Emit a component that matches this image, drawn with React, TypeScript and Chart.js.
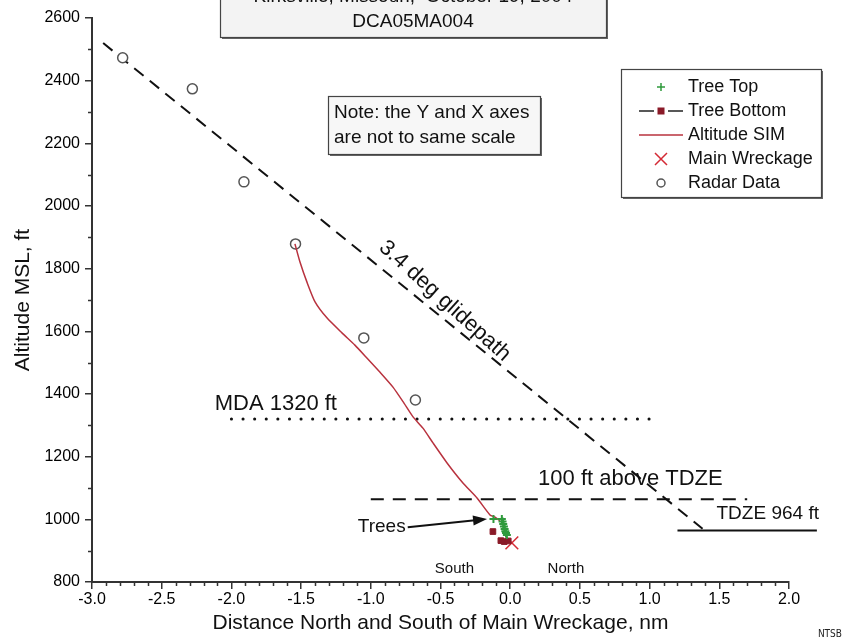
import React, { useEffect, useRef } from "react";
import { Chart, registerables } from "chart.js";
Chart.register(...registerables);

const FONT = '"Liberation Sans", Arial, sans-serif';

// Radar data (open circles)
const radarX = [-2.78, -2.28, -1.91, -1.54, -1.05, -0.68];
const radarY = [2473, 2374, 2077, 1879, 1579, 1381];

// Altitude SIM (red line)
const simX = [-1.544, -1.508, -1.458, -1.40, -1.315, -1.207, -1.114, -1.028, -0.935, -0.841, -0.762, -0.697, -0.626, -0.554, -0.453, -0.339, -0.238, -0.145, -0.109, -0.073];
const simY = [1879, 1821, 1757, 1694, 1643, 1595, 1556, 1515, 1470, 1422, 1371, 1327, 1291, 1244, 1180, 1116, 1068, 1014, 1007, 995];

// Tree Top (green crosses)
const treeTopX = [-0.12, -0.06, -0.055, -0.05, -0.045, -0.04, -0.035, -0.03, -0.024];
const treeTopY = [1001, 1001, 993, 985, 977, 969, 962, 956, 950];

// Tree Bottom (dark red squares)
const treeBottomX = [-0.124, -0.067, -0.043, -0.014];
const treeBottomY = [961, 932, 929, 931];

// Main wreckage
const wreckX = [0.012];
const wreckY = [925];

// Reference lines
const glideX = [-2.92, 1.38];
const glideY = [2520, 970];
const mdaX = [-2.0, 1.02];
const mdaY = [1320, 1320];
const tdze100X = [-1.0, 1.7];
const tdze100Y = [1064, 1064];
const tdzeX = [1.2, 2.2];
const tdzeY = [964, 964];

const xMin = -3.0, xMax = 2.0, xStep = 0.5;
const yMin = 800, yMax = 2600, yStep = 200;

const legendLabels = ["Tree Top", "Tree Bottom", "Altitude SIM", "Main Wreckage", "Radar Data"];

const pts = (xs: number[], ys: number[]) => xs.map((x, i) => ({ x, y: ys[i] }));

const annotPlugin = {
  id: "annot",
  afterDraw(chart: any) {
    const ctx: CanvasRenderingContext2D = chart.ctx;
    const xs = chart.scales.x;
    const ys = chart.scales.y;
    const px = (v: number) => xs.getPixelForValue(v);
    const py = (v: number) => ys.getPixelForValue(v);
    const ca = chart.chartArea;
    ctx.save();

    // minor ticks
    ctx.strokeStyle = "#333";
    ctx.lineWidth = 1.5;
    ctx.beginPath();
    for (let i = -30; i <= 20; i++) {
      if (i % 5 === 0) continue;
      const x = Math.round(px(i / 10)) + 0.5;
      ctx.moveTo(x, ca.bottom);
      ctx.lineTo(x, ca.bottom + 4);
    }
    for (let v = 900; v < 2600; v += 200) {
      const y = Math.round(py(v)) + 0.5;
      ctx.moveTo(ca.left, y);
      ctx.lineTo(ca.left - 4, y);
    }
    ctx.stroke();

    const box = (x1: number, y1: number, x2: number, y2: number, fill: string) => {
      ctx.fillStyle = "#666";
      ctx.fillRect(x1 + 2, y1 + 2, x2 - x1, y2 - y1);
      ctx.fillStyle = fill;
      ctx.fillRect(x1, y1, x2 - x1, y2 - y1);
      ctx.strokeStyle = "#444";
      ctx.lineWidth = 1.2;
      ctx.strokeRect(x1 + 0.5, y1 + 0.5, x2 - x1, y2 - y1);
    };

    ctx.fillStyle = "#111";
    ctx.textBaseline = "middle";

    // Title box (cut off at top)
    box(220, -6, 606, 37, "#f3f3f3");
    ctx.fillStyle = "#111";
    ctx.font = `19px ${FONT}`;
    ctx.textAlign = "center";
    ctx.fillText("Kirksville, Missouri,  October 19, 2004", 413, -3);
    ctx.fillText("DCA05MA004", 413, 22);

    // Note box
    box(328, 96, 540, 154, "#f7f7f7");
    ctx.fillStyle = "#111";
    ctx.textAlign = "left";
    ctx.font = `19px ${FONT}`;
    ctx.fillText("Note: the Y and X axes", 334, 113);
    ctx.fillText("are not to same scale", 334, 138);

    // Legend
    box(621, 69, 821, 197, "#ffffff");
    const ds = chart.data.datasets;
    const lx = 661;
    const rows = [87, 111, 135, 159, 183];
    ctx.font = `18px ${FONT}`;
    legendLabels.forEach((lab, i) => {
      const y = rows[i];
      if (i === 0) {
        ctx.strokeStyle = ds[0].borderColor;
        ctx.lineWidth = 1.5;
        ctx.beginPath();
        ctx.moveTo(lx - 4, y); ctx.lineTo(lx + 4, y);
        ctx.moveTo(lx, y - 4); ctx.lineTo(lx, y + 4);
        ctx.stroke();
      } else if (i === 1) {
        ctx.strokeStyle = "#222";
        ctx.lineWidth = 1.5;
        ctx.beginPath();
        ctx.moveTo(639, y); ctx.lineTo(654, y);
        ctx.moveTo(668, y); ctx.lineTo(683, y);
        ctx.stroke();
        ctx.fillStyle = ds[1].backgroundColor;
        ctx.fillRect(lx - 3.5, y - 3.5, 7, 7);
      } else if (i === 2) {
        ctx.strokeStyle = ds[2].borderColor;
        ctx.lineWidth = 1.5;
        ctx.beginPath();
        ctx.moveTo(639, y); ctx.lineTo(683, y);
        ctx.stroke();
      } else if (i === 3) {
        ctx.strokeStyle = ds[3].borderColor;
        ctx.lineWidth = 1.5;
        ctx.beginPath();
        ctx.moveTo(lx - 6, y - 6); ctx.lineTo(lx + 6, y + 6);
        ctx.moveTo(lx + 6, y - 6); ctx.lineTo(lx - 6, y + 6);
        ctx.stroke();
      } else {
        ctx.strokeStyle = ds[4].borderColor;
        ctx.lineWidth = 1.5;
        ctx.beginPath();
        ctx.arc(lx, y, 4, 0, Math.PI * 2);
        ctx.stroke();
      }
      ctx.fillStyle = "#111";
      ctx.textAlign = "left";
      ctx.fillText(lab, 688, y);
    });

    // Line annotations
    ctx.fillStyle = "#111";
    ctx.font = `22px ${FONT}`;
    ctx.textAlign = "left";
    ctx.fillText("MDA 1320 ft", px(-2.12), py(1368));
    ctx.fillText("100 ft above TDZE", px(0.2), py(1130));
    ctx.font = `19px ${FONT}`;
    ctx.fillText("TDZE 964 ft", px(1.48), py(1017));

    // glidepath label
    ctx.save();
    ctx.translate(px(-0.47), py(1697));
    ctx.rotate((42 * Math.PI) / 180);
    ctx.font = `22px ${FONT}`;
    ctx.textAlign = "center";
    ctx.fillText("3.4 deg glidepath", 0, 0);
    ctx.restore();

    // Trees label and arrow
    ctx.font = `19px ${FONT}`;
    ctx.textAlign = "right";
    ctx.fillText("Trees", px(-0.75), py(975));
    const ax1 = px(-0.735), ay1 = py(975);
    const ax2 = px(-0.166), ay2 = py(1001);
    const ang = Math.atan2(ay2 - ay1, ax2 - ax1);
    ctx.strokeStyle = "#111";
    ctx.lineWidth = 2;
    ctx.beginPath();
    ctx.moveTo(ax1, ay1);
    ctx.lineTo(ax2 - 12 * Math.cos(ang), ay2 - 12 * Math.sin(ang));
    ctx.stroke();
    ctx.beginPath();
    ctx.moveTo(ax2, ay2);
    ctx.lineTo(ax2 - 14 * Math.cos(ang) + 5 * Math.sin(ang), ay2 - 14 * Math.sin(ang) - 5 * Math.cos(ang));
    ctx.lineTo(ax2 - 14 * Math.cos(ang) - 5 * Math.sin(ang), ay2 - 14 * Math.sin(ang) + 5 * Math.cos(ang));
    ctx.closePath();
    ctx.fill();

    // South / North
    ctx.font = `15px ${FONT}`;
    ctx.textAlign = "center";
    ctx.fillText("South", px(-0.4), py(841));
    ctx.fillText("North", px(0.4), py(841));

    // NTSB
    ctx.font = `10px "Liberation Sans Narrow", "DejaVu Sans Condensed", ${FONT}`;
    ctx.textAlign = "right";
    ctx.fillStyle = "#222";
    ctx.fillText("NTSB", 842, 634);

    ctx.restore();
  },
};

export default function App() {
  const ref = useRef<HTMLCanvasElement | null>(null);
  useEffect(() => {
    if (!ref.current) return;
    Chart.defaults.font.family = FONT;
    const refLine = {
      showLine: true,
      pointRadius: 0,
      pointHoverRadius: 0,
      borderColor: "#111",
      backgroundColor: "#111",
      borderWidth: 2,
      fill: false,
      clip: false as any,
    };
    const chart = new Chart(ref.current, {
      type: "scatter",
      data: {
        datasets: [
          {
            label: "Tree Top",
            data: pts(treeTopX, treeTopY),
            pointStyle: "cross",
            pointRadius: 4,
            borderColor: "#2f9a3c",
            backgroundColor: "#2f9a3c",
            borderWidth: 2,
            showLine: false,
            order: 0,
          },
          {
            label: "Tree Bottom",
            data: pts(treeBottomX, treeBottomY),
            pointStyle: "rect",
            pointRadius: 4,
            borderColor: "#8a1a28",
            backgroundColor: "#8a1a28",
            borderWidth: 1,
            showLine: false,
            order: 1,
          },
          {
            label: "Altitude SIM",
            data: pts(simX, simY),
            showLine: true,
            pointRadius: 0,
            borderColor: "#b8323e",
            backgroundColor: "#b8323e",
            borderWidth: 1.5,
            tension: 0.2,
            order: 3,
          },
          {
            label: "Main Wreckage",
            data: pts(wreckX, wreckY),
            pointStyle: "crossRot",
            pointRadius: 9,
            borderColor: "#d42a35",
            backgroundColor: "#d42a35",
            borderWidth: 1.5,
            showLine: false,
            order: 2,
          },
          {
            label: "Radar Data",
            data: pts(radarX, radarY),
            pointStyle: "circle",
            pointRadius: 5,
            borderColor: "#555",
            backgroundColor: "#ffffff",
            borderWidth: 1.5,
            showLine: false,
            order: 4,
          },
          { ...refLine, label: "glidepath", data: pts(glideX, glideY), borderDash: [12, 8], order: 5 },
          {
            ...refLine,
            label: "MDA",
            data: pts(mdaX, mdaY),
            borderWidth: 3,
            borderCapStyle: "round",
            borderDash: [0.1, 11.5],
            order: 6,
          },
          { ...refLine, label: "100ft", data: pts(tdze100X, tdze100Y), borderDash: [13, 9], order: 7 },
          { ...refLine, label: "TDZE", data: pts(tdzeX, tdzeY), order: 8 },
        ] as any,
      },
      options: {
        animation: false,
        responsive: false,
        maintainAspectRatio: false,
        events: [],
        layout: { padding: { top: 18, right: 55, left: 0, bottom: 0 } },
        plugins: { legend: { display: false }, tooltip: { enabled: false }, title: { display: false } },
        scales: {
          x: {
            type: "linear",
            min: xMin,
            max: xMax,
            afterFit: (s: any) => {
              s.height = 61;
            },
            afterBuildTicks: (s: any) => {
              const t = [];
              for (let i = 0; i <= Math.round((xMax - xMin) / xStep); i++) t.push({ value: xMin + i * xStep });
              s.ticks = t;
            },
            ticks: {
              color: "#000",
              font: { size: 16, family: FONT },
              padding: 1,
              maxRotation: 0,
              autoSkip: false,
              callback: (v: any) => Number(v).toFixed(1),
            },
            grid: { drawOnChartArea: false, drawTicks: true, tickLength: 7, color: "#333", lineWidth: 1.5 },
            border: { display: true, color: "#333", width: 2 },
            title: {
              display: true,
              text: "Distance North and South of Main Wreckage, nm",
              color: "#111",
              font: { size: 21, family: FONT },
              padding: { top: 0, bottom: 7 },
            },
          },
          y: {
            type: "linear",
            min: yMin,
            max: yMax,
            afterFit: (s: any) => {
              s.width = 92;
            },
            afterBuildTicks: (s: any) => {
              const t = [];
              for (let v = yMin; v <= yMax; v += yStep) t.push({ value: v });
              s.ticks = t;
            },
            ticks: {
              color: "#000",
              font: { size: 16, family: FONT },
              padding: 5,
              autoSkip: false,
              callback: (v: any) => String(v),
            },
            grid: { drawOnChartArea: false, drawTicks: true, tickLength: 7, color: "#333", lineWidth: 1.5 },
            border: { display: true, color: "#333", width: 2 },
            title: {
              display: true,
              text: "Altitude MSL, ft",
              color: "#111",
              font: { size: 21, family: FONT },
              padding: { top: 11, bottom: 0 },
            },
          },
        },
      },
      plugins: [annotPlugin],
    });
    return () => chart.destroy();
  }, []);

  return (
    <div style={{ position: "fixed", left: 0, top: 0, width: 844, height: 643, background: "#fff" }}>
      <canvas ref={ref} width={844} height={643} style={{ display: "block" }} />
    </div>
  );
}
